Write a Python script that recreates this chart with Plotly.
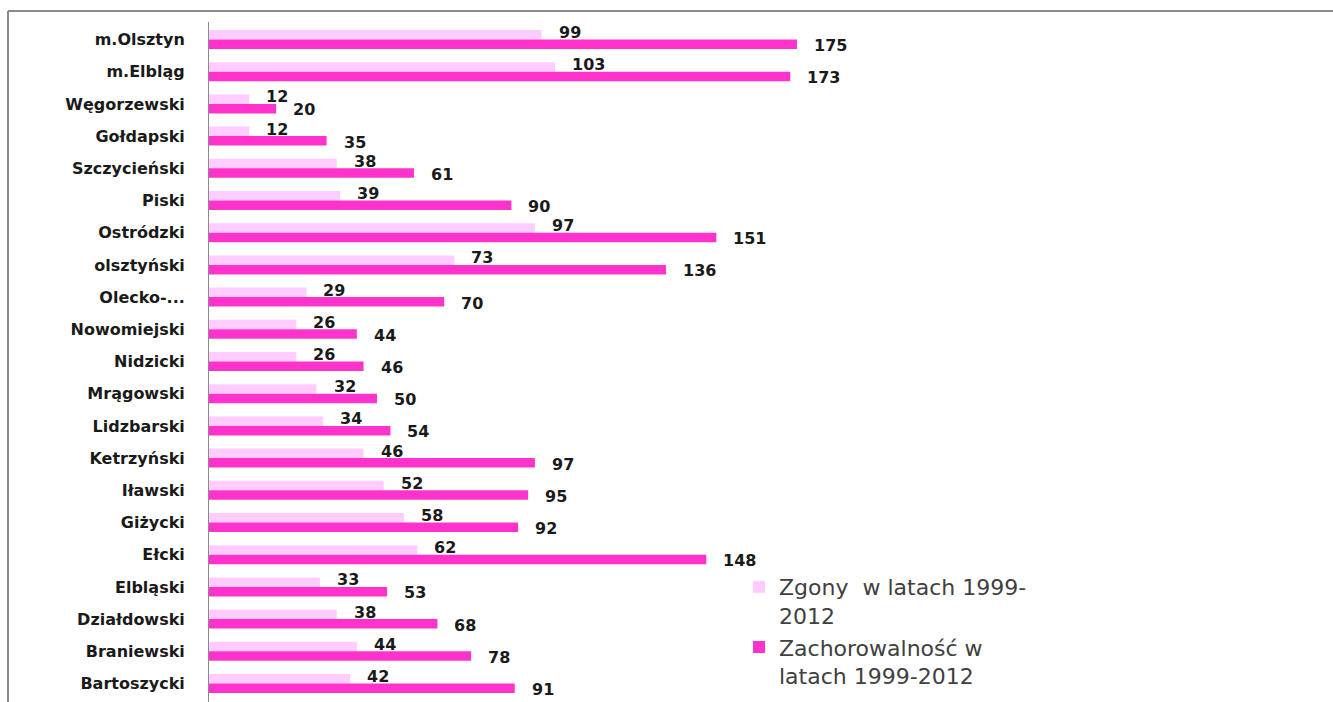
import plotly.graph_objects as go

categories = ["m.Olsztyn", "m.Elbląg", "Węgorzewski", "Gołdapski", "Szczycieński",
              "Piski", "Ostródzki", "olsztyński", "Olecko-...", "Nowomiejski",
              "Nidzicki", "Mrągowski", "Lidzbarski", "Ketrzyński", "Iławski",
              "Giżycki", "Ełcki", "Elbląski", "Działdowski", "Braniewski", "Bartoszycki"]
zgony = [99, 103, 12, 12, 38, 39, 97, 73, 29, 26, 26, 32, 34, 46, 52, 58, 62, 33, 38, 44, 42]
zachorowalnosc = [175, 173, 20, 35, 61, 90, 151, 136, 70, 44, 46, 50, 54, 97, 95, 92, 148, 53, 68, 78, 91]

name_zgony = "Zgony \u00a0w latach 1999-<br>2012"
name_zach = "Zachorowalność w<br>latach 1999-2012"

W, H = 1333, 702
ML, MT, MB = 209, 22, 0
XMAX = 200
PX_PER_UNIT = 3.36
PW = XMAX * PX_PER_UNIT
MR = W - ML - PW
PH = H - MT - MB

fig = go.Figure()
fig.add_trace(go.Bar(y=categories, x=zgony, orientation="h", name=name_zgony,
                     marker=dict(color="#FFCCFF", line=dict(width=0))))
fig.add_trace(go.Bar(y=categories, x=zachorowalnosc, orientation="h", name=name_zach,
                     marker=dict(color="#FF33CC", line=dict(width=0))))

lab_font = dict(family="DejaVu Sans", size=16, color="#1a1a1a", weight="bold")
annotations = []
for c, v in zip(categories, zgony):
    annotations.append(dict(x=v, y=c, xref="x", yref="y", text=str(v), showarrow=False,
                            xanchor="left", yanchor="middle", xshift=15, yshift=7, font=lab_font))
for c, v in zip(categories, zachorowalnosc):
    annotations.append(dict(x=v, y=c, xref="x", yref="y", text=str(v), showarrow=False,
                            xanchor="left", yanchor="middle", xshift=15, yshift=-6, font=lab_font))

def px_to_paper_x(px):
    return (px - ML) / PW

def px_to_paper_y(py):
    return 1 - (py - MT) / PH

shapes = [
    dict(type="line", xref="paper", yref="paper",
         x0=px_to_paper_x(8), x1=px_to_paper_x(W + 5),
         y0=px_to_paper_y(11), y1=px_to_paper_y(11),
         line=dict(color="#8a8a8a", width=2)),
    dict(type="line", xref="paper", yref="paper",
         x0=px_to_paper_x(8), x1=px_to_paper_x(8),
         y0=px_to_paper_y(11), y1=px_to_paper_y(H + 5),
         line=dict(color="#8a8a8a", width=2)),
]

fig.update_layout(
    width=W, height=H, autosize=False,
    margin=dict(l=ML, r=MR, t=MT, b=MB, pad=0),
    paper_bgcolor="white", plot_bgcolor="white",
    barmode="group", bargap=0.41, bargroupgap=0,
    xaxis=dict(range=[0, XMAX], showgrid=False, zeroline=False, showline=False,
               showticklabels=False, ticks=""),
    yaxis=dict(autorange="reversed", showgrid=False, zeroline=False, showline=True,
               linecolor="#8a8a8a", linewidth=1, ticks="", ticklabelstandoff=20,
               tickfont=dict(family="DejaVu Sans", size=16, color="#1a1a1a", weight="bold")),
    legend=dict(x=px_to_paper_x(739), xanchor="left", y=px_to_paper_y(566), yanchor="top",
                valign="top", bgcolor="rgba(0,0,0,0)", borderwidth=0,
                font=dict(family="DejaVu Sans", size=22, color="#404040"),
                itemclick=False),
    annotations=annotations,
    shapes=shapes,
    showlegend=True,
)

fig.write_html("out.html")
